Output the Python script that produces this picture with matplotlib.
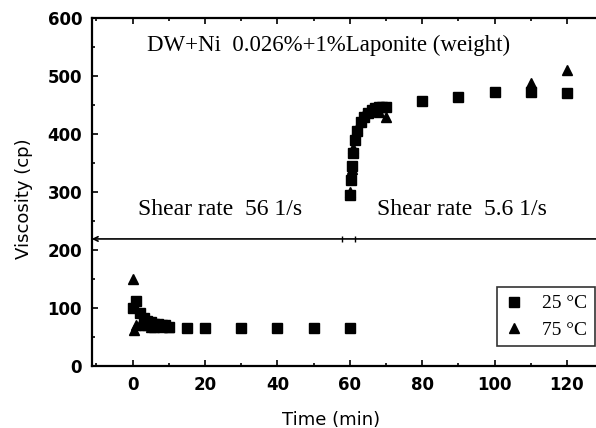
import matplotlib
matplotlib.use("Agg")
import matplotlib.pyplot as plt
from matplotlib.lines import Line2D
from matplotlib.ticker import MultipleLocator

# 25 degC, shear rate 56 1/s (0-60 min)
t25_low = [0, 1, 2, 3, 4, 5, 6, 7, 8, 9, 10, 15, 20, 30, 40, 50, 60]
v25_low = [100, 112, 92, 82, 78, 75, 73, 72, 70, 70, 68, 66, 66, 66, 66, 66, 66]
# 75 degC, shear rate 56 1/s
t75_low = [0, 0.5, 1, 2, 3, 4, 5, 6, 8, 10]
v75_low = [150, 62, 70, 72, 70, 70, 68, 68, 67, 67]

# 25 degC, shear rate 5.6 1/s (60-120 min)
t25_high = [60, 60.3, 60.6, 61, 61.5, 62, 63, 64, 65, 66, 67, 68, 69, 70,
            80, 90, 100, 110, 120]
v25_high = [295, 320, 345, 368, 390, 405, 420, 430, 437, 441, 444, 446, 447, 446,
            457, 464, 472, 472, 471]
# 75 degC, shear rate 5.6 1/s
t75_high = [60, 60.5, 61, 62, 63, 64, 66, 68, 70, 110, 120]
v75_high = [300, 340, 375, 410, 425, 435, 440, 438, 430, 488, 510]

xticks = [0, 20, 40, 60, 80, 100, 120]
yticks = [0, 100, 200, 300, 400, 500, 600]
title_text = "DW+Ni  0.026%+1%Laponite (weight)"
left_text = "Shear rate  56 1/s"
right_text = "Shear rate  5.6 1/s"
divider = 219

serif = ["Liberation Serif", "DejaVu Serif"]

fig = plt.figure(figsize=(5.96, 4.28), dpi=100)
# axes run past the right edge on purpose: the reference is cropped there
ax = fig.add_axes([0.154, 0.145, 0.864, 0.813])

ax.plot(t25_low + t25_high, v25_low + v25_high, ls="none", marker="s",
        ms=7.5, color="black")
ax.plot(t75_low + t75_high, v75_low + v75_high, ls="none", marker="^",
        ms=7.5, color="black")

ax.set_xlim(-11.3, 131)
ax.set_ylim(0, 600)
ax.set_xticks(xticks)
ax.set_yticks(yticks)
ax.xaxis.set_minor_locator(MultipleLocator(10))
ax.yaxis.set_minor_locator(MultipleLocator(50))
ax.tick_params(which="both", direction="in", top=True, right=True, width=1.2)
ax.tick_params(which="major", length=4, labelsize=12, pad=7)
ax.tick_params(which="minor", length=2)
for lab in ax.get_xticklabels() + ax.get_yticklabels():
    lab.set_fontweight("bold")
for sp in ax.spines.values():
    sp.set_linewidth(1.6)

# divider between the two shear rate regimes
ax.annotate("", xy=(-11.3, divider), xytext=(131, divider),
            arrowprops=dict(arrowstyle="<->", color="black", lw=1.2,
                            shrinkA=0, shrinkB=0, mutation_scale=8))
ax.plot([57.8, 61.5], [divider, divider], ls="none", marker="|", ms=5,
        color="black")

ax.text(4, 553, title_text, family=serif, fontsize=16.5, va="center")
ax.text(1.4, 269, left_text, family=serif, fontsize=17, va="center")
ax.text(67.4, 269, right_text, family=serif, fontsize=17, va="center")

ax.set_ylabel("Viscosity (cp)", fontsize=13)
ax.yaxis.set_label_coords(-0.115, 0.48)
ax.set_xlabel("Time (min)", fontsize=13)
ax.xaxis.set_label_coords((331 - 92) / 515, -0.13)

handles = [
    Line2D([], [], ls="none", marker="s", ms=7.5, color="black"),
    Line2D([], [], ls="none", marker="^", ms=7.5, color="black"),
]
leg = ax.legend(handles, ["25 °C", "75 °C"], loc="upper left",
                bbox_to_anchor=(0.768, 0.255), prop={"family": serif, "size": 14},
                frameon=True, fancybox=False, edgecolor="black",
                handletextpad=0.9, borderpad=0.4, labelspacing=0.45,
                handlelength=1.0)
leg.get_frame().set_linewidth(1.2)

fig.savefig("out.png", dpi=100)
